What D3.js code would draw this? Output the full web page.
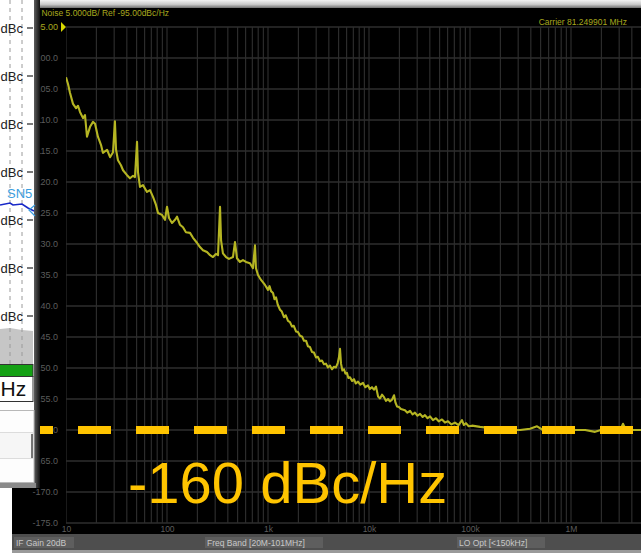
<!DOCTYPE html>
<html>
<head>
<meta charset="utf-8">
<script src="https://cdn.jsdelivr.net/npm/d3@7"></script>
<style>
  html, body { margin: 0; padding: 0; background: #ffffff; }
  svg { display: block; }
</style>
</head>
<body>
<svg id="chart" width="641" height="553"></svg>
<script>
// Phase-noise trace: offset frequency (Hz) and single-sideband noise (dBc/Hz)
const offsetHz = [
  10, 10.47, 10.95, 11.73, 12.56, 13.15, 13.76, 14.74, 15.42, 16.14,
  17.29, 18.5, 19.4, 20.7, 22.2, 23.2, 25.5, 27.3, 29.2, 30.5,
  31.3, 32.7, 35.0, 36.7, 40.2, 43.0, 46.1, 48.2, 50.5, 51.6,
  54.0, 57.8, 63.4, 67.9, 72.7, 77.8, 81.5, 89.2, 95.5, 100,
  104.7, 112.1, 120, 125.6, 134.5, 144, 154, 169, 181, 198,
  212, 227, 249, 267, 285, 305, 320, 335, 343, 358,
  384, 411, 450, 471, 493, 528, 565, 605, 663, 710,
  743, 760, 796, 853, 934,
  1000, 1035, 1071, 1121, 1160, 1200, 1250, 1315, 1370, 1440,
  1500, 1578, 1650, 1729, 1800, 1893, 1980, 2074, 2170, 2271,
  2380, 2488, 2600, 2725, 2850, 2985, 3120, 3270, 3420, 3582,
  3750, 3924, 4100, 4298, 4500, 4708, 4900, 5047, 5163, 5283,
  5450, 5652, 5850, 6053, 6250, 6485, 6800, 7101, 7400, 7778,
  8200, 8726, 9200, 9773, 10200, 10700, 11200, 11730, 12300, 12850,
  13450, 14080, 14700, 15430, 16100, 16900, 17700, 18300, 18930, 19800,
  20700, 22700, 24000, 25500, 27000, 28500, 30200, 32000, 34000, 35800,
  38000, 40200, 43000, 46000, 49000, 52800, 56500, 60500, 65500, 71000,
  77000, 83300, 87000, 91200, 97000, 104700, 125600, 157800, 198000, 249000,
  313000, 393000, 461000, 528000, 695000, 977000, 1380000, 1730000, 2170000, 2730000,
  3130000, 3270000, 3430000, 4020000, 4930000
];
const noiseDbc = [
  -103.1, -104.2, -105.6, -107.4, -108.1, -107.7, -108.7, -109.7, -109.2, -112.7,
  -111.1, -110.3, -110.6, -112.7, -114.0, -115.3, -114.8, -116.0, -115.2, -110.2,
  -114.8, -116.5, -117.3, -118.1, -118.9, -119.4, -119.0, -119.2, -113.5, -118.4,
  -120.8, -120.5, -121.6, -121.3, -122.4, -123.7, -125.0, -125.3, -126.1, -124.0,
  -125.8, -126.6, -126.1, -125.6, -126.9, -127.3, -128.1, -128.2, -129.0, -129.8,
  -130.5, -131.0, -131.3, -131.8, -132.1, -131.6, -131.8, -124.0, -129.4, -131.5,
  -132.1, -132.4, -132.1, -129.7, -132.3, -132.9, -132.6, -132.9, -133.1, -133.9,
  -130.2, -133.9, -135.0, -135.8, -136.6,
  -137.4, -136.8, -137.6, -137.9, -138.9, -138.6, -139.8, -140.6, -140.9, -141.8,
  -141.5, -142.4, -142.6, -143.3, -143.2, -144.1, -144.2, -144.8, -144.9, -145.6,
  -145.6, -146.5, -146.6, -147.4, -147.5, -148.3, -148.2, -148.9, -148.8, -149.4,
  -149.3, -149.9, -149.6, -150.2, -149.8, -149.9, -149.2, -148.2, -146.9, -149.3,
  -150.4, -150.2, -150.9, -150.8, -151.6, -151.5, -152.1, -151.8, -152.5, -152.2,
  -152.7, -152.4, -153.1, -152.8, -153.4, -153.1, -153.5, -153.0, -154.6, -154.9,
  -154.3, -154.7, -155.3, -155.0, -155.4, -155.1, -154.4, -155.6, -156.2, -156.3,
  -156.6, -156.8, -157.2, -156.9, -157.5, -157.2, -157.7, -157.4, -157.9, -157.6,
  -158.1, -157.8, -158.4, -158.1, -158.6, -158.3, -158.8, -158.6, -159.1, -158.8,
  -159.2, -158.4, -159.2, -158.9, -159.4, -159.3, -159.5, -159.7, -159.8, -160.0,
  -160.0, -159.8, -159.4, -160.0, -160.0, -160.0, -160.0, -160.3, -159.8, -160.0,
  -159.7, -159.0, -159.7, -160.0, -160.0
];

// Axis ticks
const yTickValues = [-95, -100, -105, -110, -115, -120, -125, -130, -135, -140, -145, -150, -155, -160, -165, -170, -175];
const yTickLabels = ["-95.00", "-100.0", "-105.0", "-110.0", "-115.0", "-120.0", "-125.0", "-130.0", "-135.0", "-140.0", "-145.0", "-150.0", "-155.0", "-160.0", "-165.0", "-170.0", "-175.0"];
const xTickValues = [10, 100, 1e3, 1e4, 1e5, 1e6];
const xTickLabels = ["10", "100", "1k", "10k", "100k", "1M"];

// Spec limit and annotation
const specLimitDbc = -160;
const specLabel = "-160 dBc/Hz";

// Texts of the analyzer screen
const headerText = "Phase Noise 5.000dB/ Ref -95.00dBc/Hz";
const carrierText = "Carrier 81.249901 MHz";
const statusTexts = ["IF Gain 20dB", "Freq Band [20M-101MHz]", "LO Opt [<150kHz]"];

// Side window (partly visible) labels
const sideLabels = ["dBc", "dBc", "dBc", "dBc", "dBc", "dBc", "dBc"];
const sideTraceName = "SN5";
const sideUnit = "Hz";

const svg = d3.select("#chart");
const W = 641, H = 553;
const plot = { left: 66, top: 27, right: 641, bottom: 523 };

const x = d3.scaleLog().domain([10, 1e7]).range([66, 672]);
const y = d3.scaleLinear().domain([-175, -95]).range([plot.bottom, plot.top]);

const defs = svg.append("defs");
const topGrad = defs.append("linearGradient").attr("id", "topbar").attr("x1", 0).attr("x2", 0).attr("y1", 0).attr("y2", 1);
topGrad.append("stop").attr("offset", "0%").attr("stop-color", "#f2f2f2");
topGrad.append("stop").attr("offset", "55%").attr("stop-color", "#c9c9c9");
topGrad.append("stop").attr("offset", "100%").attr("stop-color", "#6e6e6e");
defs.append("clipPath").attr("id", "plotclip").append("rect")
  .attr("x", plot.left).attr("y", plot.top - 1)
  .attr("width", plot.right - plot.left).attr("height", plot.bottom - plot.top + 2);
const shadowGrad = defs.append("linearGradient").attr("id", "shadow").attr("x1", 0).attr("x2", 1).attr("y1", 0).attr("y2", 0);
shadowGrad.append("stop").attr("offset", "0%").attr("stop-color", "#6a6a6a");
shadowGrad.append("stop").attr("offset", "100%").attr("stop-color", "#111111");
defs.append("filter").attr("id", "soft").append("feGaussianBlur").attr("stdDeviation", 0.45);

// Analyzer screen
svg.append("rect").attr("x", 12).attr("y", 0).attr("width", W - 12).attr("height", H).attr("fill", "#000");
svg.append("rect").attr("x", 12).attr("y", 0).attr("width", W - 12).attr("height", 8).attr("fill", "url(#topbar)");

svg.append("text").attr("x", 15).attr("y", 16)
  .attr("font-family", "Liberation Sans, Arial, sans-serif").attr("font-size", 8.5)
  .attr("fill", "#a8a81e").text(headerText);
svg.append("text").attr("x", 627).attr("y", 25).attr("text-anchor", "end")
  .attr("font-family", "Liberation Sans, Arial, sans-serif").attr("font-size", 8.5)
  .attr("fill", "#a8a81e").text(carrierText);

// Grid
const grid = svg.append("g").attr("clip-path", "url(#plotclip)");
const minor = [];
for (let d = 10; d <= 1e6; d *= 10) for (let k = 1; k < 10; k++) minor.push(d * k);
minor.push(1e7);
grid.selectAll("line.v").data(minor).join("line")
  .attr("x1", d => x(d)).attr("x2", d => x(d))
  .attr("y1", plot.top).attr("y2", plot.bottom)
  .attr("stroke", "#2c2c2c").attr("stroke-width", 1.2);
grid.selectAll("line.h").data(yTickValues).join("line")
  .attr("x1", plot.left).attr("x2", plot.right)
  .attr("y1", d => y(d)).attr("y2", d => y(d))
  .attr("stroke", "#2e2e2e").attr("stroke-width", 1.4);

// Axes
const yAxis = d3.axisLeft(y).tickValues(yTickValues).tickSize(0).tickPadding(8)
  .tickFormat((d, i) => yTickLabels[i]);
const yg = svg.append("g").attr("transform", `translate(${plot.left},0)`).call(yAxis);
yg.select(".domain").remove();
yg.selectAll("text").attr("font-family", "Liberation Sans, Arial, sans-serif").attr("font-size", 9)
  .attr("fill", (d, i) => i === 0 ? "#a8a81e" : "#5c5c5c");

const xAxis = d3.axisBottom(x).tickValues(xTickValues).tickSize(0).tickPadding(3)
  .tickFormat((d, i) => xTickLabels[i]);
const xg = svg.append("g").attr("transform", `translate(0,${plot.bottom})`).call(xAxis);
xg.select(".domain").remove();
xg.selectAll("text").attr("font-family", "Liberation Sans, Arial, sans-serif").attr("font-size", 8.5)
  .attr("fill", "#5c5c5c");

// Reference marker
svg.append("path").attr("d", `M${plot.left - 5},${plot.top - 5} L${plot.left},${plot.top} L${plot.left - 5},${plot.top + 5} Z`)
  .attr("fill", "#d8d800");

// Trace
const line = d3.line().x((d, i) => x(offsetHz[i])).y(d => y(d));
svg.append("g").attr("clip-path", "url(#plotclip)").append("path")
  .datum(noiseDbc).attr("d", line)
  .attr("fill", "none").attr("stroke", "#b5b524").attr("stroke-width", 2.1)
  .attr("stroke-linejoin", "round").attr("filter", "url(#soft)");

// Spec limit line
svg.append("line")
  .attr("x1", 20).attr("x2", W).attr("y1", y(specLimitDbc)).attr("y2", y(specLimitDbc))
  .attr("stroke", "#ffc400").attr("stroke-width", 8).attr("stroke-dasharray", "33,25");

svg.append("text").attr("x", 128).attr("y", 503)
  .attr("font-family", "Liberation Sans, Arial, sans-serif").attr("font-size", 58)
  .attr("fill", "#ffc400").text(specLabel);

// Status bar
svg.append("rect").attr("x", 12).attr("y", 534).attr("width", W - 12).attr("height", 16).attr("fill", "#4e4e4e");
svg.append("rect").attr("x", 12).attr("y", 550).attr("width", W - 12).attr("height", 3).attr("fill", "#9a9a9a");
[[14, 60], [205, 118], [457, 88]].forEach(([bx, bw]) => {
  svg.append("rect").attr("x", bx).attr("y", 537).attr("width", bw).attr("height", 11).attr("fill", "#5e5e5e");
});
const statusX = [16, 207, 459];
svg.selectAll("text.status").data(statusTexts).join("text")
  .attr("x", (d, i) => statusX[i]).attr("y", 546)
  .attr("font-family", "Liberation Sans, Arial, sans-serif").attr("font-size", 8.5)
  .attr("fill", "#c8c8c8").text(d => d);

// Overlapping side window
const side = svg.append("g");
side.append("rect").attr("x", 33).attr("y", 0).attr("width", 7).attr("height", 488).attr("fill", "url(#shadow)");
side.append("rect").attr("x", 0).attr("y", 0).attr("width", 34).attr("height", 488).attr("fill", "#fff");
side.append("path").attr("d", "M0,329 L10,328 L22,330 L33,331 L33,364 L0,364 Z").attr("fill", "#c6c6c6");
[10, 22].forEach(lx => {
  side.append("line").attr("x1", lx).attr("x2", lx).attr("y1", 0).attr("y2", 364)
    .attr("stroke", "#9a9a9a").attr("stroke-width", 1).attr("stroke-dasharray", "4,4");
});
const sideY = d3.scaleLinear().domain([0, 6]).range([28, 316]);
side.selectAll("text.lab").data(sideLabels).join("text")
  .attr("x", 0.5).attr("y", (d, i) => sideY(i) + 5)
  .attr("font-family", "Liberation Sans, Arial, sans-serif").attr("font-size", 13)
  .attr("fill", "#222").text(d => d);
side.selectAll("line.tk").data(sideLabels).join("line")
  .attr("x1", 27).attr("x2", 33).attr("y1", (d, i) => sideY(i)).attr("y2", (d, i) => sideY(i))
  .attr("stroke", "#222").attr("stroke-width", 1.2);
side.append("path").attr("d", "M0,205 L10,203 L13,205 L22,204 L28,208 L34,211")
  .attr("fill", "none").attr("stroke", "#1828c8").attr("stroke-width", 1.6);
side.append("path").attr("d", "M35,205 L29,210 L35,216")
  .attr("fill", "none").attr("stroke", "#3a9ee0").attr("stroke-width", 1.2);
side.append("text").attr("x", 7).attr("y", 198)
  .attr("font-family", "Liberation Sans, Arial, sans-serif").attr("font-size", 13)
  .attr("fill", "#3a9ee0").text(sideTraceName);
side.append("rect").attr("x", -1).attr("y", 364.5).attr("width", 34).attr("height", 12).attr("fill", "#14a014")
  .attr("stroke", "#333").attr("stroke-width", 1);
side.append("rect").attr("x", -1).attr("y", 376.5).attr("width", 34).attr("height", 25).attr("fill", "#fff")
  .attr("stroke", "#333").attr("stroke-width", 1);
side.append("text").attr("x", 0.5).attr("y", 396)
  .attr("font-family", "Liberation Sans, Arial, sans-serif").attr("font-size", 21)
  .attr("fill", "#111").text(sideUnit);
side.append("rect").attr("x", -1).attr("y", 410.5).attr("width", 35).attr("height", 72).attr("fill", "#fdfdfd")
  .attr("stroke", "#b8b8b8").attr("stroke-width", 1);
side.append("rect").attr("x", -1).attr("y", 432.5).attr("width", 34).attr("height", 26).attr("fill", "#f6f6f6")
  .attr("stroke", "#dcdcdc").attr("stroke-width", 1);
side.append("line").attr("x1", 32).attr("x2", 32).attr("y1", 434).attr("y2", 458)
  .attr("stroke", "#222").attr("stroke-width", 1.2);
side.append("rect").attr("x", 0).attr("y", 483).attr("width", 36).attr("height", 5).attr("fill", "#8a8a8a");
</script>
</body>
</html>
